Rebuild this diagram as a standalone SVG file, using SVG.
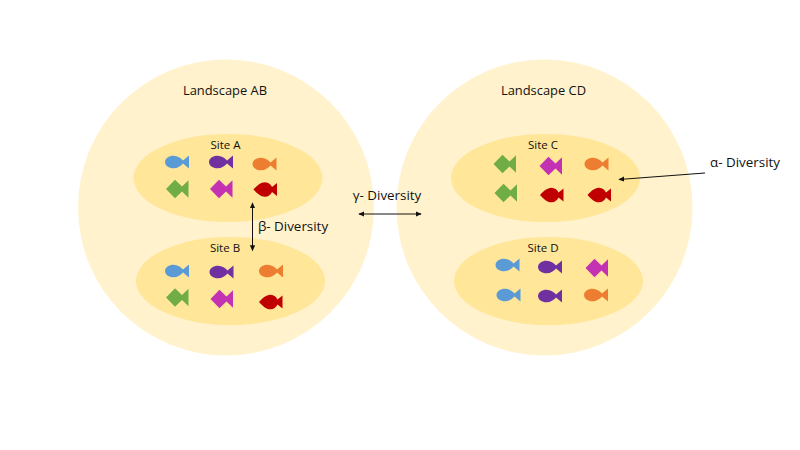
<svg xmlns="http://www.w3.org/2000/svg" width="800" height="450" viewBox="0 0 800 450">
<style>
.land{fill:#FFF2CC}
.site{fill:#FFE699}
text{font-family:"Open Sans","Noto Sans","Liberation Sans",sans-serif;fill:#111;text-anchor:middle}
.l{font-size:12.900px}
.s{font-size:11.500px}
.d{font-size:13.400px}
.c{stroke:#111;stroke-width:1;fill:none;marker-start:url(#ah);marker-end:url(#ah)}
.blue{fill:#5B9BD5}.purple{fill:#7030A0}.orange{fill:#ED7D31}.green{fill:#70AD47}.magenta{fill:#C432B4}.red{fill:#C00000}
</style>
<defs>
<marker id="ah" viewBox="0 0 8 8" refX="7" refY="4" markerWidth="6" markerHeight="6" orient="auto-start-reverse" markerUnits="userSpaceOnUse"><path d="M0,0.5L8,4L0,7.5Z" fill="#111"/></marker>
<symbol id="oval" overflow="visible"><path d="M-12,0C-12,-3.8 -8,-6.300 -3.500,-6.300C0.500,-6.300 4,-4 6,-1.500L12,-6.500V6.500L6,1.500C4,4 0.500,6.300 -3.500,6.300C-8,6.300 -12,3.800 -12,0Z"/></symbol>
<symbol id="dia" overflow="visible"><path d="M-11.500,0L-2.500,-9.200L4.500,-2.500L11,-8.800V8.800L4.500,2.500L-2.500,9.200Z"/></symbol>
<symbol id="tear" overflow="visible"><path d="M-12,0C-9,-3.500 -5,-7.300 -0.500,-7.300C3,-7.300 5.500,-5 6.500,-2.500L11.500,-6.500V6.500L6.500,2.500C5.500,5 3,7.300 -0.500,7.300C-5,7.300 -9,3.500 -12,0Z"/></symbol>
</defs>
<rect width="800" height="450" fill="#fff"/>
<g id="landscape-ab"><circle class="land" cx="226" cy="207.500" r="148"/><text class="l" x="225" y="95">Landscape AB</text></g>
<g id="landscape-cd"><circle class="land" cx="544.500" cy="207.500" r="148"/><text class="l" x="543.500" y="95">Landscape CD</text></g>
<g id="site-a"><ellipse class="site" cx="228" cy="178" rx="94.500" ry="44"/><text class="s" x="225.500" y="149">Site A</text>
<use href="#oval" class="blue" x="177" y="162"/><use href="#oval" class="purple" x="221" y="162"/><use href="#oval" class="orange" x="264.500" y="164"/>
<use href="#dia" class="green" x="177.500" y="189"/><use href="#dia" class="magenta" x="221.500" y="189"/><use href="#tear" class="red" x="265.500" y="189.500"/></g>
<g id="site-b"><ellipse class="site" cx="230.500" cy="281" rx="94.500" ry="44"/><text class="s" x="225" y="252">Site B</text>
<use href="#oval" class="blue" x="177" y="271"/><use href="#oval" class="purple" x="221.500" y="272"/><use href="#oval" class="orange" x="271" y="271"/>
<use href="#dia" class="green" x="177.500" y="297.500"/><use href="#dia" class="magenta" x="222" y="299"/><use href="#tear" class="red" x="271" y="302"/></g>
<g id="site-c"><ellipse class="site" cx="545.500" cy="178" rx="94.500" ry="44"/><text class="s" x="543" y="149">Site C</text>
<use href="#dia" class="green" x="505" y="164"/><use href="#dia" class="magenta" x="551" y="166"/><use href="#oval" class="orange" x="596.500" y="164"/>
<use href="#dia" class="green" x="506" y="193"/><use href="#tear" class="red" x="552" y="195"/><use href="#tear" class="red" x="599.500" y="195"/></g>
<g id="site-d"><ellipse class="site" cx="548.500" cy="281" rx="94.500" ry="44"/><text class="s" x="543" y="252">Site D</text>
<use href="#oval" class="blue" x="507.500" y="265"/><use href="#oval" class="purple" x="550" y="267"/><use href="#dia" class="magenta" x="597" y="268"/>
<use href="#oval" class="blue" x="508.500" y="295"/><use href="#oval" class="purple" x="550" y="296"/><use href="#oval" class="orange" x="596" y="295"/></g>
<g id="connectors">
<line class="c" x1="252.500" y1="203" x2="252.500" y2="250.500"/>
<line class="c" x1="359" y1="214" x2="421" y2="214"/>
<path d="M705,173L619,179.500" stroke="#111" stroke-width="1" fill="none" marker-end="url(#ah)"/>
</g>
<g id="labels">
<text class="d" x="293" y="231">β- Diversity</text>
<text class="d" x="387" y="200">γ- Diversity</text>
<text class="d" x="745" y="167">α- Diversity</text>
</g>
</svg>
